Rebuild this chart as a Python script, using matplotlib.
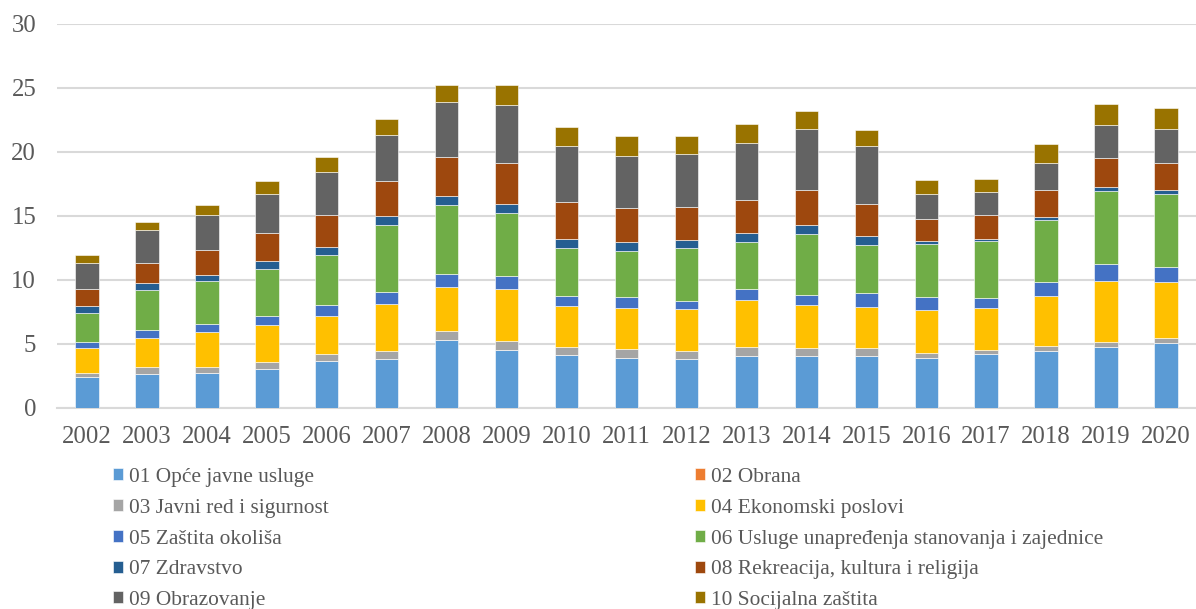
import matplotlib
matplotlib.use("Agg")
import matplotlib.pyplot as plt
import numpy as np

years = [str(y) for y in range(2002, 2021)]

labels = [
    "01 Opće javne usluge",
    "02 Obrana",
    "03 Javni red i sigurnost",
    "04 Ekonomski poslovi",
    "05 Zaštita okoliša",
    "06 Usluge unapređenja stanovanja i zajednice",
    "07 Zdravstvo",
    "08 Rekreacija, kultura i religija",
    "09 Obrazovanje",
    "10 Socijalna zaštita",
]
colors = ["#5B9BD5", "#ED7D31", "#A5A5A5", "#FFC000", "#4472C4",
          "#70AD47", "#255E91", "#9E480E", "#636363", "#997300"]

s01 = [2.40, 2.63, 2.71, 3.02, 3.65, 3.80, 5.29, 4.53, 4.11, 3.91, 3.83, 4.06, 4.06, 4.06, 3.91, 4.22, 4.43, 4.74, 5.05]
s02 = [0.01, 0.01, 0.01, 0.01, 0.01, 0.01, 0.01, 0.01, 0.01, 0.01, 0.01, 0.01, 0.01, 0.01, 0.01, 0.01, 0.01, 0.01, 0.01]
s03 = [0.33, 0.54, 0.46, 0.54, 0.56, 0.64, 0.72, 0.67, 0.65, 0.66, 0.59, 0.67, 0.64, 0.64, 0.35, 0.28, 0.38, 0.38, 0.41]
s04 = [1.98, 2.29, 2.73, 2.91, 2.99, 3.68, 3.43, 4.06, 3.17, 3.23, 3.28, 3.67, 3.36, 3.21, 3.39, 3.33, 3.90, 4.82, 4.35]
s05 = [0.42, 0.60, 0.65, 0.68, 0.81, 0.96, 1.02, 1.04, 0.81, 0.84, 0.65, 0.91, 0.76, 1.06, 0.99, 0.75, 1.10, 1.30, 1.17]
s06 = [2.32, 3.12, 3.34, 3.67, 3.91, 5.18, 5.42, 4.90, 3.72, 3.64, 4.11, 3.65, 4.76, 3.73, 4.19, 4.48, 4.89, 5.73, 5.73]
s07 = [0.47, 0.58, 0.52, 0.65, 0.65, 0.73, 0.67, 0.70, 0.73, 0.68, 0.66, 0.70, 0.73, 0.70, 0.23, 0.13, 0.24, 0.29, 0.31]
s08 = [1.38, 1.58, 1.92, 2.19, 2.50, 2.73, 3.05, 3.23, 2.89, 2.68, 2.55, 2.58, 2.71, 2.53, 1.70, 1.85, 2.11, 2.26, 2.11]
s09 = [2.03, 2.56, 2.74, 3.02, 3.33, 3.60, 4.30, 4.56, 4.35, 4.04, 4.14, 4.45, 4.79, 4.53, 1.95, 1.85, 2.08, 2.58, 2.63]
s10 = [0.62, 0.65, 0.78, 1.07, 1.20, 1.27, 1.35, 1.51, 1.54, 1.53, 1.40, 1.46, 1.41, 1.27, 1.07, 1.02, 1.49, 1.67, 1.67]

series = [s01, s02, s03, s04, s05, s06, s07, s08, s09, s10]

plt.rcParams["font.family"] = ["Liberation Serif", "DejaVu Serif"]

fig = plt.figure(figsize=(11.96, 6.09), dpi=100)
ax = fig.add_axes([57 / 1196, 1 - 408 / 609, 1 - 57 / 1196, (408 - 24) / 609])

x = np.arange(len(years))
bottom = np.zeros(len(years))
handles = []
for vals, lab, col in zip(series, labels, colors):
    v = np.array(vals)
    b = ax.bar(x, v, width=0.39, bottom=bottom, color=col, label=lab,
               edgecolor="#ffffff", linewidth=0.4, zorder=3)
    handles.append(b)
    bottom += v

ax.set_xlim(-0.5, len(years) - 0.5)
ax.set_ylim(0, 30)
ax.set_yticks(range(0, 31, 5))
ax.set_xticks(x)
ax.set_xticklabels(years)
ax.grid(axis="y", color="#D9D9D9", linewidth=1.5, zorder=0)
for sp in ["top", "right", "left"]:
    ax.spines[sp].set_visible(False)
ax.spines["bottom"].set_color("#D9D9D9")
ax.spines["bottom"].set_linewidth(1.5)
ax.tick_params(axis="both", length=0, labelsize=17.8, colors="#595959")
ax.tick_params(axis="x", pad=13)
ax.tick_params(axis="y", pad=15)

left_h = [handles[i] for i in (0, 2, 4, 6, 8)]
left_l = [labels[i] for i in (0, 2, 4, 6, 8)]
right_h = [handles[i] for i in (1, 3, 5, 7, 9)]
right_l = [labels[i] for i in (1, 3, 5, 7, 9)]

common = dict(frameon=False, fontsize=15.4, handlelength=0.48, handleheight=0.48,
              handletextpad=0.25, labelspacing=0.55, borderaxespad=0, borderpad=0,
              labelcolor="#595959")
leg1 = fig.legend(left_h, left_l, loc="upper left",
                  bbox_to_anchor=(113 / 1196, 1 - 468 / 609), **common)
leg2 = fig.legend(right_h, right_l, loc="upper left",
                  bbox_to_anchor=(695 / 1196, 1 - 468 / 609), **common)

fig.savefig("out.png", dpi=100)
